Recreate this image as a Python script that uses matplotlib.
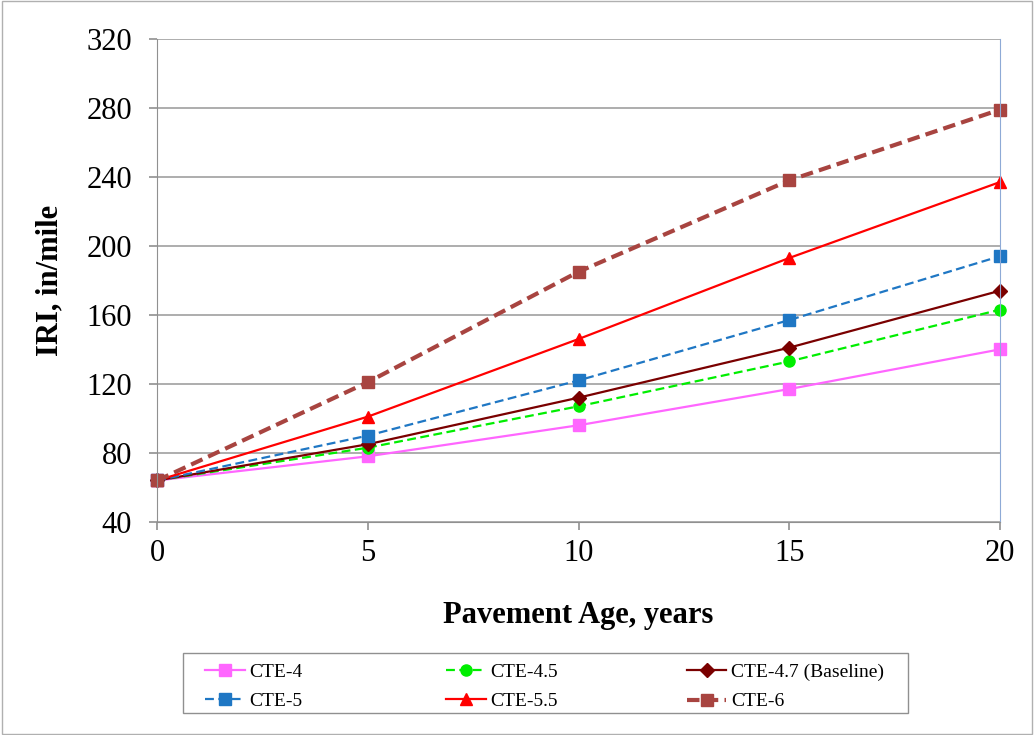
import matplotlib.pyplot as plt
from matplotlib.patches import Rectangle

plt.rcParams['font.family'] = ['Liberation Serif', 'DejaVu Serif']

age = [0, 5, 10, 15, 20]
cte_4 = [64, 78, 96, 117, 140]
cte_45 = [64, 83, 107, 133, 163]
cte_47 = [64, 85, 112, 141, 174]
cte_5 = [64, 90, 122, 157, 194]
cte_55 = [64, 101, 146, 193, 237]
cte_6 = [64, 121, 185, 238, 279]

fig = plt.figure(figsize=(10.34, 7.35), dpi=100)
ax = fig.add_axes([0.152, 0.290, 0.815, 0.657])

l1, = ax.plot(age, cte_4, color='#ff66ff', lw=1.6, marker='s', ms=8, label='CTE-4')
l2, = ax.plot(age, cte_45, color='#00ee00', lw=1.6, ls=(0, (4, 2)), marker='o', ms=8, label='CTE-4.5')
l3, = ax.plot(age, cte_47, color='#7a0000', lw=1.6, marker='D', ms=7, label='CTE-4.7 (Baseline)')
l4, = ax.plot(age, cte_5, color='#1f77c4', lw=1.6, ls=(0, (4, 2)), marker='s', ms=8, label='CTE-5')
l5, = ax.plot(age, cte_55, color='#ff0000', lw=1.6, marker='^', ms=9, label='CTE-5.5')
l6, = ax.plot(age, cte_6, color='#a84440', lw=3, ls=(0, (3, 1.5)), marker='s', ms=9, label='CTE-6')

ax.set_xlim(0, 20)
ax.set_ylim(40, 320)
ax.set_xticks([0, 5, 10, 15, 20])
ax.set_yticks(range(40, 321, 40))
ax.grid(axis='y', color='#a0a0a0', lw=1.2)
ax.set_axisbelow(True)
for l in [l1, l2, l3, l4, l5, l6]:
    l.set_clip_on(False)
ax.spines['top'].set_visible(False)
ax.spines['left'].set_color('#909090')
ax.spines['bottom'].set_color('#909090')
ax.spines['right'].set_color('#8eaad6')
ax.tick_params(labelsize=22, color='#909090', length=6, width=1.2)
ax.tick_params(axis='y', pad=12)
ax.tick_params(axis='x', pad=6)
ax.set_xlabel('Pavement Age, years', fontsize=22, fontweight='bold', labelpad=24)
ax.set_ylabel('IRI, in/mile', fontsize=22, fontweight='bold', labelpad=16)

# legend: three columns placed like the Excel legend
cols = [([l1, l4], 0.198), ([l2, l5], 0.431), ([l3, l6], 0.664)]
for hs, x0 in cols:
    fig.legend(handles=hs, loc='upper left', bbox_to_anchor=(x0, 0.098),
               fontsize=14, frameon=False, handlelength=2.05, handletextpad=0.25,
               labelspacing=0.62, borderpad=0, borderaxespad=0)
fig.patches.append(Rectangle((0.177, 0.0299), 0.701, 0.0816, transform=fig.transFigure,
                             fill=False, edgecolor='#909090', lw=1))

fig.patches.append(Rectangle((0.002, 0.002), 0.996, 0.996, transform=fig.transFigure,
                             fill=False, edgecolor='#b0b0b0', lw=1))

fig.savefig('out.png', dpi=100)
